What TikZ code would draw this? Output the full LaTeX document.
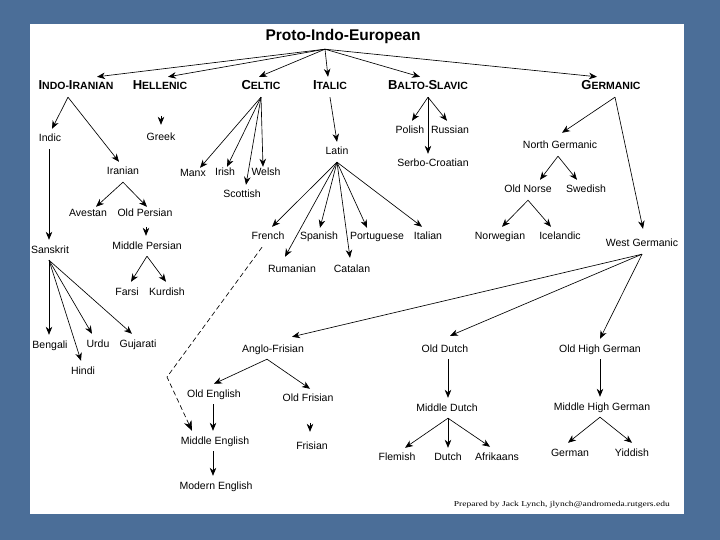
\documentclass[tikz,border=0pt]{standalone}
\usepackage{fontspec}
\usepackage{graphicx}
\setmainfont{Liberation Sans}
\newfontfamily\creditfont{Liberation Serif}
\usetikzlibrary{arrows.meta}
\definecolor{slidebg}{RGB}{75,110,152}
\newcommand{\HdBig}{\fontsize{13}{13}\selectfont}
\newcommand{\HdSm}{\fontsize{10.5}{10.5}\selectfont}
\begin{document}
\begin{tikzpicture}[x=1pt,y=-1pt,
  lang/.style={inner xsep=1pt, inner ysep=5pt, text height=8pt, text depth=2pt, font=\fontsize{10.5}{12}\selectfont},
  head/.style={lang, font=\bfseries},
  arr/.style={line width=0.65pt, -{Stealth[length=8pt,width=6.5pt,inset=2.5pt]}},
  dasharr/.style={line width=0.65pt, dash pattern=on 5pt off 3pt, -{Stealth[length=10pt,width=8pt,inset=3pt]}}]
\useasboundingbox (0,0) rectangle (720,540);
\fill[slidebg] (0,0) rectangle (720,540);
\fill[white] (30,24) rectangle (684,514);

% title and branches
\node[lang, font=\bfseries\fontsize{15.5}{16}\selectfont, text height=11pt, text depth=3pt] (pie) at (343,37) {Proto-Indo-European};
\node[head] (indoiranian) at (76,87) {{\HdBig I}{\HdSm NDO-}{\HdBig I}{\HdSm RANIAN}};
\node[head] (hellenic) at (160,87) {{\HdBig H}{\HdSm ELLENIC}};
\node[head] (celtic) at (261,87) {{\HdBig C}{\HdSm ELTIC}};
\node[head] (italic) at (330,87) {{\HdBig I}{\HdSm TALIC}};
\node[head] (baltoslavic) at (428,87) {{\HdBig B}{\HdSm ALTO-}{\HdBig S}{\HdSm LAVIC}};
\node[head] (germanic) at (611,87) {{\HdBig G}{\HdSm ERMANIC}};

% Indo-Iranian
\node[lang] (indic) at (50,139) {Indic};
\node[lang] (greek) at (161,138) {Greek};
\node[lang] (iranian) at (123,172) {Iranian};
\node[lang] (avestan) at (88,214) {Avestan};
\node[lang] (oldpersian) at (145,214) {Old Persian};
\node[lang] (midpersian) at (147,246) {Middle Persian};
\node[lang] (sanskrit) at (50,250) {Sanskrit};
\node[lang] (farsi) at (127,292) {Farsi};
\node[lang] (kurdish) at (167,292) {Kurdish};
\node[lang] (bengali) at (50,345) {Bengali};
\node[lang] (urdu) at (98,344) {Urdu};
\node[lang] (gujarati) at (138,344) {Gujarati};
\node[lang] (hindi) at (83,371) {Hindi};

% Celtic
\node[lang] (manx) at (193,174) {Manx};
\node[lang] (irish) at (225,173) {Irish};
\node[lang] (welsh) at (266,173) {Welsh};
\node[lang] (scottish) at (242,194) {Scottish};

% Italic
\node[lang] (latin) at (337,152) {Latin};
\node[lang] (french) at (268,237) {French};
\node[lang] (spanish) at (319,237) {Spanish};
\node[lang] (portuguese) at (377,237) {Portuguese};
\node[lang] (italian) at (428,237) {Italian};
\node[lang] (rumanian) at (292,269) {Rumanian};
\node[lang] (catalan) at (352,269) {Catalan};

% Balto-Slavic
\node[lang] (polish) at (410,131) {Polish};
\node[lang] (russian) at (450,131) {Russian};
\node[lang] (serbocroatian) at (433,164) {Serbo-Croatian};

% Germanic
\node[lang] (northgermanic) at (560,146) {North Germanic};
\node[lang] (oldnorse) at (528,190) {Old Norse};
\node[lang] (swedish) at (586,190) {Swedish};
\node[lang] (norwegian) at (500,237) {Norwegian};
\node[lang] (icelandic) at (560,237) {Icelandic};
\node[lang] (westgermanic) at (642,244) {West Germanic};
\node[lang] (anglofrisian) at (273,349) {Anglo-Frisian};
\node[lang] (olddutch) at (445,349) {Old Dutch};
\node[lang] (oldhighgerman) at (600,349) {Old High German};
\node[lang] (oldenglish) at (214,394) {Old English};
\node[lang] (oldfrisian) at (308,398) {Old Frisian};
\node[lang] (frisian) at (312,446) {Frisian};
\node[lang] (middleenglish) at (215,441) {Middle English};
\node[lang] (modernenglish) at (216,486) {Modern English};
\node[lang] (middledutch) at (447,408) {Middle Dutch};
\node[lang] (flemish) at (397,457) {Flemish};
\node[lang] (dutch) at (448,457) {Dutch};
\node[lang] (afrikaans) at (497,457) {Afrikaans};
\node[lang] (middlehighgerman) at (602,407) {Middle High German};
\node[lang] (german) at (570,453) {German};
\node[lang] (yiddish) at (632,453) {Yiddish};

\node[anchor=east, inner sep=0pt, font=\creditfont\fontsize{7.5}{8}\selectfont] (credit) at (670,505) {\scalebox{1.27}[1]{Prepared by Jack Lynch, jlynch@andromeda.rutgers.edu}};

% connectors from Proto-Indo-European
\coordinate (pieapex) at ([xshift=-18pt]pie.south);
\draw[arr] (pieapex) -- ([xshift=21pt]indoiranian.north);
\draw[arr] (pieapex) -- ([xshift=8pt]hellenic.north);
\draw[arr] (pieapex) -- ([xshift=-2pt]celtic.north);
\draw[arr] (pieapex) -- ([xshift=-2pt]italic.north);
\draw[arr] (pieapex) -- ([xshift=-8pt]baltoslavic.north);
\draw[arr] (pieapex) -- ([xshift=-14pt]germanic.north);

% Indo-Iranian
\draw[arr] ([xshift=-8pt]indoiranian.south) -- ([xshift=2pt]indic.north);
\draw[arr] ([xshift=-8pt]indoiranian.south) -- ([xshift=-4pt]iranian.north);
\draw[arr] ([yshift=12pt]greek.north) -- ([yshift=3pt]greek.north);
\draw[arr] (iranian.south) -- ([xshift=8pt,yshift=-3pt]avestan.north);
\draw[arr] (iranian.south) -- ([xshift=2pt,yshift=-3pt]oldpersian.north);
\draw[arr] ([xshift=-1pt,yshift=9pt]midpersian.north) -- ([xshift=-1pt]midpersian.north);
\draw[arr] (midpersian.south) -- ([xshift=4pt]farsi.north);
\draw[arr] (midpersian.south) -- ([xshift=-1pt]kurdish.north);
\draw[arr] ([xshift=-1pt]indic.south) -- ([xshift=-1pt]sanskrit.north);
\draw[arr] ([xshift=-1pt]sanskrit.south) -- ([xshift=-1pt]bengali.north);
\draw[arr] ([xshift=-1pt]sanskrit.south) -- ([xshift=-2pt]hindi.north);
\draw[arr] ([xshift=-1pt]sanskrit.south) -- ([xshift=-6pt]urdu.north);
\draw[arr] ([xshift=-1pt]sanskrit.south) -- ([xshift=-6pt]gujarati.north);

% Celtic
\draw[arr] (celtic.south) -- ([xshift=7pt,yshift=-4pt]manx.north);
\draw[arr] (celtic.south) -- ([xshift=2pt,yshift=-4pt]irish.north);
\draw[arr] (celtic.south) -- ([xshift=4pt,yshift=-1pt]scottish.north);
\draw[arr] (celtic.south) -- ([xshift=-3pt,yshift=-4pt]welsh.north);

% Italic
\draw[arr] (italic.south) -- (latin.north);
\draw[arr] (latin.south) -- ([xshift=4pt]french.north);
\draw[arr] (latin.south) -- ([xshift=1pt,yshift=-1pt]spanish.north);
\draw[arr] (latin.south) -- ([xshift=-10pt,yshift=-1pt]portuguese.north);
\draw[arr] (latin.south) -- ([xshift=-6pt]italian.north);
\draw[arr] (latin.south) -- ([xshift=-7pt,yshift=2pt]rumanian.north);
\draw[arr] (latin.south) -- ([xshift=-2pt,yshift=1pt]catalan.north);

% Balto-Slavic
\draw[arr] (baltoslavic.south) -- ([xshift=2pt]polish.north);
\draw[arr] (baltoslavic.south) -- ([xshift=-3pt]russian.north);
\draw[arr] (baltoslavic.south) -- ([xshift=-5pt]serbocroatian.north);

% Germanic
\draw[arr] ([xshift=4pt]germanic.south) -- ([xshift=2pt,yshift=3pt]northgermanic.north);
\draw[arr] ([xshift=4pt]germanic.south) -- ([xshift=1pt,yshift=5pt]westgermanic.north);
\draw[arr] ([xshift=-2pt]northgermanic.south) -- ([xshift=12pt]oldnorse.north);
\draw[arr] ([xshift=-2pt]northgermanic.south) -- ([xshift=-9pt]swedish.north);
\draw[arr] (oldnorse.south) -- ([xshift=2pt]norwegian.north);
\draw[arr] (oldnorse.south) -- ([xshift=-9pt]icelandic.north);
\draw[arr] (westgermanic.south) -- ([xshift=19pt,yshift=2pt]anglofrisian.north);
\draw[arr] (westgermanic.south) -- ([xshift=5pt,yshift=3pt]olddutch.north);
\draw[arr] (westgermanic.south) -- (oldhighgerman.north);
\draw[arr] ([xshift=-6pt]anglofrisian.south) -- (oldenglish.north);
\draw[arr] ([xshift=-6pt]anglofrisian.south) -- ([xshift=2pt,yshift=-1pt]oldfrisian.north);
\draw[arr] ([xshift=-1pt]oldenglish.south) -- ([xshift=-2pt]middleenglish.north);
\draw[arr] ([xshift=-2pt]middleenglish.south) -- ([xshift=-3pt]modernenglish.north);
\draw[arr] ([xshift=-2pt,yshift=13pt]frisian.north) -- ([xshift=-2pt,yshift=4pt]frisian.north);
\coordinate (frbend) at (167,377);
\draw[dasharr] ([xshift=-6pt]french.south) -- (frbend) -- ([xshift=-23pt]middleenglish.north);
\draw[arr] ([xshift=3pt]olddutch.south) -- ([xshift=1pt]middledutch.north);
\draw[arr] ([xshift=1pt]middledutch.south) -- ([xshift=8pt,yshift=-1pt]flemish.north);
\draw[arr] ([xshift=1pt]middledutch.south) -- ([yshift=-1pt]dutch.north);
\draw[arr] ([xshift=1pt]middledutch.south) -- ([xshift=-7pt]afrikaans.north);
\draw[arr] (oldhighgerman.south) -- ([xshift=-2pt]middlehighgerman.north);
\draw[arr] ([xshift=-2pt]middlehighgerman.south) -- ([xshift=-2pt]german.north);
\draw[arr] ([xshift=-2pt]middlehighgerman.south) -- (yiddish.north);
\end{tikzpicture}
\end{document}
